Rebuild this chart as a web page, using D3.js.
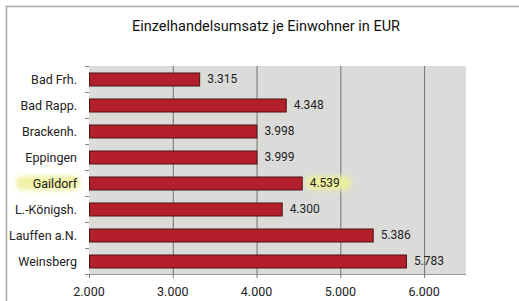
<!DOCTYPE html>
<html><head><meta charset="utf-8">
<script src="https://cdn.jsdelivr.net/npm/d3@7"></script>
<style>body{margin:0;background:#fff;} svg{display:block;}</style>
</head><body>
<script>
const categories = ["Bad Frh.","Bad Rapp.","Brackenh.","Eppingen","Gaildorf","L.-Königsh.","Lauffen a.N.","Weinsberg"];
const values = [3315,4348,3998,3999,4539,4300,5386,5783];
const valueLabels = ["3.315","4.348","3.998","3.999","4.539","4.300","5.386","5.783"];
const xTicks = [2000,3000,4000,5000,6000];
const xTickLabels = ["2.000","3.000","4.000","5.000","6.000"];
const highlighted = "Gaildorf";
const title = "Einzelhandelsumsatz je Einwohner in EUR";

const W=519,H=301;
const m={l:89,r:53,t:66,b:27};
const svg=d3.select("body").append("svg").attr("width",W).attr("height",H);
const font="Roboto, 'Liberation Sans', sans-serif";

const defs=svg.append("defs");
const f=defs.append("filter").attr("id","blur").attr("x","-20%").attr("y","-50%").attr("width","140%").attr("height","200%");
f.append("feGaussianBlur").attr("stdDeviation",2.5);

// frame
svg.append("path").attr("d",`M6.5,${H} L6.5,6.5 L${W},6.5`).attr("fill","none").attr("stroke","#a8a8a8").attr("stroke-width",1.5);

const x=d3.scaleLinear().domain([2000,6500]).range([m.l,W-m.r]);
const y=d3.scaleBand().domain(categories).range([m.t,H-m.b]).paddingInner(0.5).paddingOuter(0.25);

// plot background
svg.append("rect").attr("x",x(2000)).attr("y",m.t).attr("width",x(6500)-x(2000)).attr("height",H-m.b-m.t).attr("fill","#dbdbd9");

// grid
svg.append("g").selectAll("line").data(xTicks.slice(1)).join("line")
 .attr("x1",d=>x(d)+0.5).attr("x2",d=>x(d)+0.5).attr("y1",m.t).attr("y2",H-m.b)
 .attr("stroke","#707070").attr("stroke-width",1);

// highlight
const hy=y(highlighted)+y.bandwidth()/2;
svg.append("rect").attr("x",16).attr("y",hy-7).attr("width",64).attr("height",14).attr("rx",6).attr("fill","#f2f2a6").attr("filter","url(#blur)");
const hi=categories.indexOf(highlighted);
svg.append("rect").attr("x",x(values[hi])+5).attr("y",hy-7).attr("width",44).attr("height",14).attr("rx",6).attr("fill","#eef09c").attr("filter","url(#blur)");

// bars
svg.append("g").selectAll("rect").data(categories).join("rect")
 .attr("x",x(2000)+0.5).attr("y",d=>y(d)+0.5)
 .attr("width",(d,i)=>x(values[i])-x(2000)).attr("height",y.bandwidth())
 .attr("fill","#b41f2c").attr("stroke","#4a1212").attr("stroke-width",1);

// value labels
svg.append("g").selectAll("text").data(categories).join("text")
 .attr("x",(d,i)=>x(values[i])+8).attr("y",d=>y(d)+y.bandwidth()/2)
 .attr("dy","0.36em").attr("font-family",font).attr("font-size",12).attr("fill","#222")
 .text((d,i)=>valueLabels[i]);

// y axis
const ya=svg.append("g").attr("transform",`translate(${m.l},0)`);
const step=y.step();
const bounds=d3.range(categories.length+1).map(i=>m.t+i*step);
ya.selectAll("line.t").data(bounds).join("line").attr("class","t")
 .attr("x1",-4).attr("x2",0).attr("y1",d=>d+0.5).attr("y2",d=>d+0.5).attr("stroke","#888");
ya.selectAll("text").data(categories).join("text")
 .attr("x",-12).attr("y",d=>y(d)+y.bandwidth()/2).attr("dy","0.36em")
 .attr("text-anchor","end").attr("font-family",font).attr("font-size",12.5).attr("fill","#222").text(d=>d);

// x axis
const xa=svg.append("g").attr("transform",`translate(0,${H-m.b})`);
xa.append("line").attr("x1",x(2000)).attr("x2",x(6500)).attr("y1",0.5).attr("y2",0.5).attr("stroke","#999");
xa.selectAll("line.t").data(xTicks).join("line").attr("class","t")
 .attr("x1",d=>x(d)+0.5).attr("x2",d=>x(d)+0.5).attr("y1",0).attr("y2",4).attr("stroke","#777");
xa.selectAll("text").data(xTicks).join("text")
 .attr("x",d=>x(d)).attr("y",22).attr("text-anchor","middle")
 .attr("font-family",font).attr("font-size",12.5).attr("fill","#222").text((d,i)=>xTickLabels[i]);

// title
svg.append("text").attr("x",266).attr("y",31).attr("text-anchor","middle")
 .attr("font-family",font).attr("font-size",14.5).attr("font-weight",400).attr("fill","#111").text(title);
</script>
</body></html>
